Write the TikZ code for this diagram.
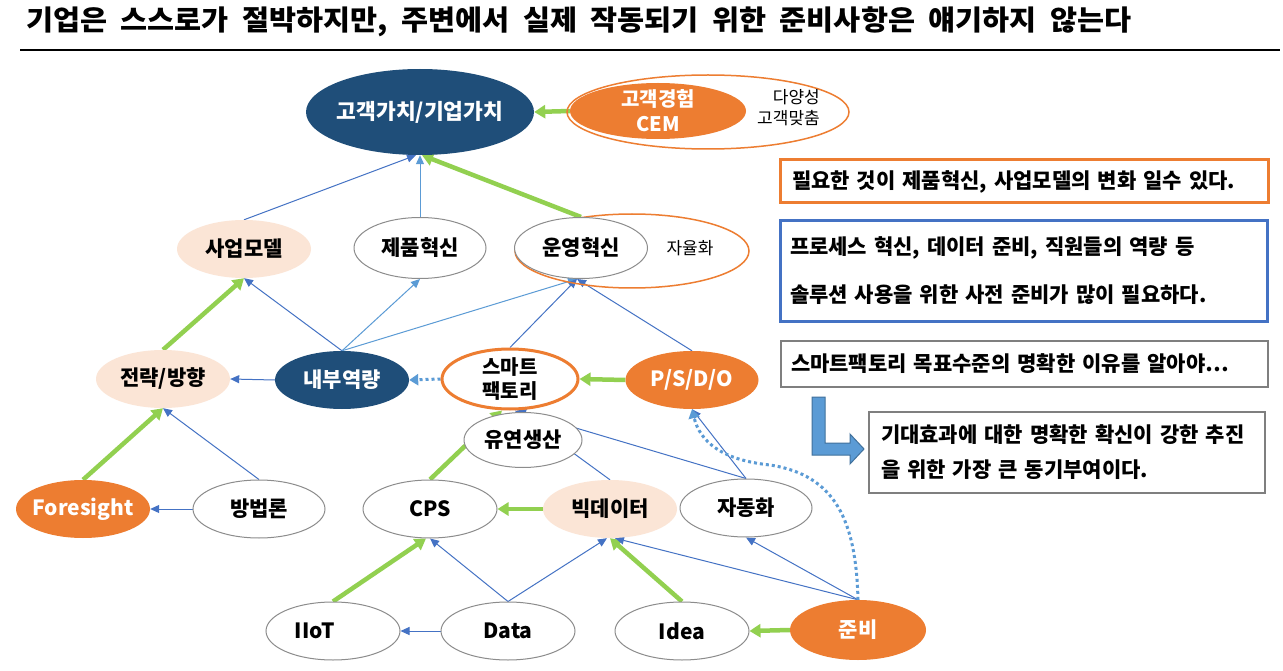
\documentclass[tikz,border=0pt]{standalone}
\usepackage{fontspec}
\setmainfont{Noto Sans CJK KR}
\newfontfamily\titlefont[FakeStretch=1.05,WordSpace=2]{Noto Sans CJK KR}
\usetikzlibrary{shapes.geometric,arrows.meta}
\pgfdeclarelayer{bg}
\pgfdeclarelayer{paper}
\pgfsetlayers{paper,bg,main}
\definecolor{navy}{HTML}{1F4E79}
\definecolor{org}{HTML}{ED7D31}
\definecolor{peach}{HTML}{FBE5D6}
\definecolor{lblue}{HTML}{5B9BD5}
\definecolor{mblue}{HTML}{4472C4}
\definecolor{grn}{HTML}{92D050}
\definecolor{gry}{HTML}{8C8C8C}
\definecolor{boxgray}{HTML}{7F7F7F}
\definecolor{arrowedge}{HTML}{41719C}
\begin{document}
\begin{tikzpicture}[x=1pt,y=-1pt,
  ell/.style={ellipse, inner xsep=-30pt, inner ysep=-30pt, minimum width=134pt, minimum height=58pt,
    font=\bfseries\fontsize{21}{25}\selectfont},
  wnode/.style={ell, draw=gry, line width=1pt, fill=white},
  pnode/.style={ell, fill=peach},
  onode/.style={ell, fill=org, text=white},
  dnode/.style={ell, fill=navy, text=white},
  ring/.style={ellipse, draw=org, line width=1.5pt, inner sep=0pt},
  small/.style={font=\fontsize{17}{21}\selectfont},
  bl/.style={draw=mblue, line width=1pt, -{Triangle[length=9pt,width=8pt]}},
  lb/.style={draw=lblue, line width=1pt, -{Triangle[length=9pt,width=8pt]}},
  gr/.style={draw=grn, line width=4.5pt, -{Triangle[length=11pt,width=13pt]}},
  dots/.style={draw=lblue, line width=3pt, dash pattern=on 3pt off 3pt,
    -{Triangle[length=9pt,width=11pt]}},
  textbox/.style={rectangle, inner sep=0pt, align=left,
    font=\bfseries\fontsize{21}{25}\selectfont},
]
\useasboundingbox (0,0) rectangle (1283,671);
\begin{pgfonlayer}{paper}
\fill[white] (0,0) rectangle (1283,671);
\end{pgfonlayer}

% title
\node[anchor=west, inner sep=0pt, font=\titlefont\bfseries\fontsize{28}{32}\selectfont] (title) at (26,22)
  {기업은 스스로가 절박하지만, 주변에서 실제 작동되기 위한 준비사항은 얘기하지 않는다};
\coordinate (ruleL) at (20,50);
\coordinate (ruleR) at (1280,50);
\draw[line width=1.3pt] (ruleL) -- (ruleR);

% top row
\node[dnode, minimum width=228pt, minimum height=86pt, font=\bfseries\fontsize{21.5}{25}\selectfont] (gv) at (420,112) {고객가치/기업가치};
\node[ring, minimum width=282pt, minimum height=74pt] (cemring) at (708,112) {};
\node[onode, minimum width=176pt, minimum height=56pt, align=center, font=\bfseries\fontsize{20}{25}\selectfont] (cem) at (658,111) {고객경험\\CEM};
\node[small, align=right, anchor=east, inner sep=0pt] (div) at (820,108) {다양성\\고객맞춤};

% second row
\node[pnode] (bm) at (244,249) {사업모델};
\node[wnode, minimum width=132pt, minimum height=61pt] (pi) at (420,248) {제품혁신};
\node[ring, minimum width=234pt, minimum height=74pt] (opring) at (632,251) {};
\node[wnode, minimum width=133pt, minimum height=61pt] (oi) at (581,248) {운영혁신};
\node[small] (autonomy) at (690,248) {자율화};

% third row
\node[pnode] (st) at (163,379) {전략/방향};
\node[dnode] (ic) at (342,380) {내부역량};
\node[wnode, draw=org, line width=3pt, minimum width=136pt, minimum height=60pt, align=left, font=\bfseries\fontsize{20}{24}\selectfont] (sf) at (510,379) {스마트\\팩토리};
\node[onode, minimum width=133pt] (psdo) at (692,380) {P/S/D/O};

\node[wnode, minimum width=118pt, minimum height=55pt] (fp) at (523,440) {유연생산};

% fourth row
\node[onode] (fs) at (83,509) {Foresight};
\node[wnode, minimum width=132pt] (mt) at (259,509) {방법론};
\node[wnode] (cps) at (430,509) {CPS};
\node[pnode] (bd) at (610,509) {빅데이터};
\node[wnode, minimum width=132pt] (au) at (746,508) {자동화};

% bottom row
\node[wnode] (iiot) at (333,631) {};
\node[inner sep=0pt, font=\bfseries\fontsize{21}{25}\selectfont] (iiottext) at (315,631) {IIoT};
\node[wnode] (data) at (508,631) {Data};
\node[wnode] (idea) at (682,631) {Idea};
\node[onode, minimum width=136pt, minimum height=60pt] (jb) at (858,630) {준비};

% right boxes
\node[textbox, draw=org, line width=3pt, minimum width=488pt, minimum height=43pt, text width=464pt, inner xsep=12pt] (b1) at (1024,181.5)
  {필요한 것이 제품혁신, 사업모델의 변화 일수 있다.};
\node[textbox, draw=mblue, line width=3pt, minimum width=487pt, minimum height=100pt, text width=467pt, inner xsep=10pt, font=\bfseries\fontsize{21}{48}\selectfont] (b2) at (1023.5,271)
  {프로세스 혁신, 데이터 준비, 직원들의 역량 등\\솔루션 사용을 위한 사전 준비가 많이 필요하다.};
\node[textbox, draw=boxgray, line width=1.3pt, minimum width=487pt, minimum height=46pt, text width=467pt, inner xsep=10pt] (b3) at (1024.5,364)
  {스마트팩토리 목표수준의 명확한 이유를 알아야…};
\node[textbox, draw=boxgray, line width=1.3pt, minimum width=396pt, minimum height=81pt, text width=372pt, inner xsep=12pt, font=\bfseries\fontsize{21}{35}\selectfont] (b4) at (1067,452.5)
  {기대효과에 대한 명확한 확신이 강한 추진\\을 위한 가장 큰 동기부여이다.};

% L-shaped arrow
\filldraw[fill=lblue, draw=arrowedge, line width=1pt]
  (812,397) -- (825,397) -- (825,443) -- (850,443) -- (850,434) -- (864,449)
  -- (850,464) -- (850,455) -- (812,455) -- cycle;

% connectors
\begin{pgfonlayer}{bg}
\draw[gr] (cem.west) -- (gv.east);
\draw[bl] (bm.north) -- ([xshift=-4pt]gv.south);
\draw[lb] (pi.north) -- (gv.south);
\draw[gr] (oi.north) -- ([xshift=2pt]gv.south);

\draw[gr] (st.north) -- (bm.south);
\draw[bl] (ic.north) -- (bm.south);
\draw[lb] (ic.north) -- (pi.south);
\draw[lb] (ic.north) -- ([xshift=-4pt]oi.south);
\draw[bl] (sf.north) -- ([xshift=-4pt]oi.south);
\draw[bl] (psdo.north) -- ([xshift=-4pt]oi.south);

\draw[bl] (ic.west) -- (st.east);
\draw[dots] (sf.west) -- (ic.east);
\draw[gr] (psdo.west) -- (sf.east);

\draw[gr] (fs.north) -- (st.south);
\draw[bl] (mt.north) -- (st.south);
\draw[bl] (mt.west) -- (fs.east);

\draw[gr] (cps.north) -- ([xshift=-8pt]sf.south);
\draw[bl] (bd.north) -- ([xshift=5pt]sf.south);
\draw[bl] (au.north) -- ([xshift=7pt]sf.south);
\draw[bl] (au.north) -- (psdo.south);

\draw[gr] (bd.west) -- (cps.east);
\draw[gr] (iiot.north) -- ([xshift=-4pt]cps.south);
\draw[bl] (data.north) -- (cps.south);
\draw[bl] (data.north) -- ([xshift=-3pt]bd.south);
\draw[bl] (data.west) -- (iiot.east);
\draw[gr] (idea.north) -- (bd.south);
\draw[bl] (jb.north) -- ([xshift=5pt]bd.south);
\draw[bl] (jb.north) -- (au.south);
\draw[gr] (jb.west) -- (idea.east);
\draw[dots] (jb.north) .. controls (856,520) and (835,475) .. (770,465)
  .. controls (722,460) and (700,442) .. (psdo.south);
\end{pgfonlayer}
\end{tikzpicture}
\end{document}
